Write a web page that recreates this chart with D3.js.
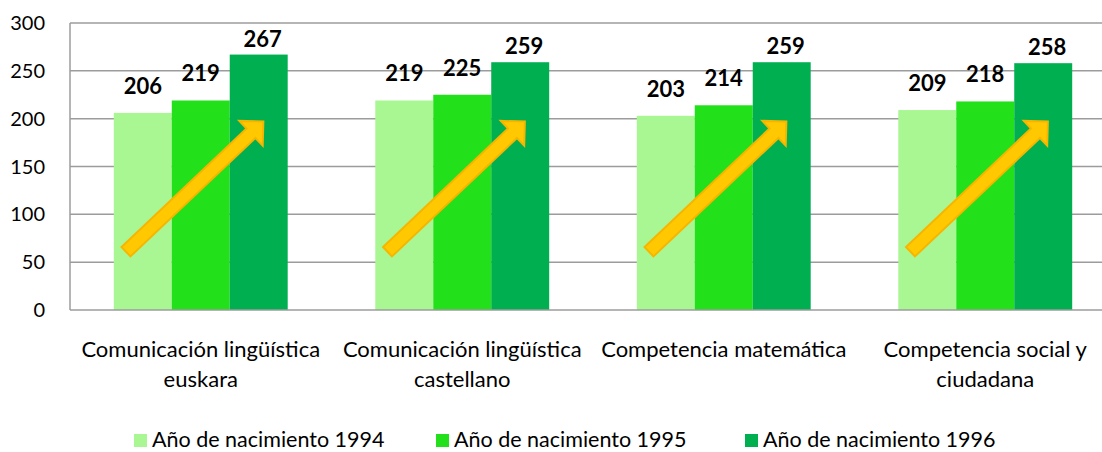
<!DOCTYPE html>
<html>
<head>
<meta charset="utf-8">
<script src="https://cdn.jsdelivr.net/npm/d3@7"></script>
<style>
  body { margin: 0; background: #fff; }
  text { font-family: Lato, "Liberation Sans", sans-serif; fill: #000; }
</style>
</head>
<body>
<svg id="chart" width="1102" height="452"></svg>
<script>
var categories = [
  ["Comunicación lingüística", "euskara"],
  ["Comunicación lingüística", "castellano"],
  ["Competencia matemática"],
  ["Competencia social y", "ciudadana"]
];
var seriesNames = ["Año de nacimiento 1994", "Año de nacimiento 1995", "Año de nacimiento 1996"];
var values1994 = [206, 219, 203, 209];
var values1995 = [219, 225, 214, 218];
var values1996 = [267, 259, 259, 258];
var yTicks = [0, 50, 100, 150, 200, 250, 300];
var colors = ["#a8f792", "#22e01a", "#00b050"];

var svg = d3.select("#chart"),
    margin = {top: 23, left: 70, bottom: 142},
    plotRight = 1116,
    height = +svg.attr("height") - margin.bottom;

var series = [values1994, values1995, values1996];

var x0 = d3.scaleBand()
    .domain(d3.range(categories.length))
    .range([margin.left, plotRight])
    .paddingInner(0.335)
    .paddingOuter(0.1675);

var x1 = d3.scaleBand()
    .domain(d3.range(series.length))
    .range([0, x0.bandwidth()]);

var y = d3.scaleLinear().domain([0, 300]).range([height, margin.top]);

// gridlines
svg.append("g")
    .selectAll("line")
    .data(yTicks.slice(1))
    .enter().append("line")
      .attr("x1", margin.left)
      .attr("x2", plotRight)
      .attr("y1", function(d) { return y(d); })
      .attr("y2", function(d) { return y(d); })
      .attr("stroke", "#9c9c9c")
      .attr("stroke-width", 1.5);

// bars
var groups = svg.append("g")
  .selectAll("g")
  .data(categories)
  .enter().append("g")
    .attr("transform", function(d, i) { return "translate(" + x0(i) + ",0)"; });

groups.selectAll("rect")
  .data(function(d, i) { return series.map(function(s, j) { return {s: j, v: s[i]}; }); })
  .enter().append("rect")
    .attr("x", function(d) { return x1(d.s); })
    .attr("y", function(d) { return y(d.v); })
    .attr("width", x1.bandwidth())
    .attr("height", function(d) { return y(0) - y(d.v); })
    .attr("fill", function(d) { return colors[d.s]; });

// arrows (decoration, from low to high)
function arrowPath(x1p, y1p, x2p, y2p) {
  var dx = x2p - x1p, dy = y2p - y1p, len = Math.sqrt(dx * dx + dy * dy);
  var ux = dx / len, uy = dy / len, nx = -uy, ny = ux;
  var w = 6.5, hw = 17, hl = 17;
  var bx = x2p - ux * hl, by = y2p - uy * hl;
  var pts = [
    [x1p + nx * w, y1p + ny * w],
    [bx + nx * w, by + ny * w],
    [bx + nx * hw, by + ny * hw],
    [x2p, y2p],
    [bx - nx * hw, by - ny * hw],
    [bx - nx * w, by - ny * w],
    [x1p - nx * w, y1p - ny * w]
  ];
  return "M" + pts.map(function(p) { return p.join(","); }).join("L") + "Z";
}

groups.append("path")
    .attr("d", function() {
      var bw = x0.bandwidth();
      return arrowPath(bw * 0.07, y(61), bw * 0.86, y(197));
    })
    .attr("fill", "#ffc800")
    .attr("stroke", "#f7b500")
    .attr("stroke-width", 2)
    .attr("stroke-linejoin", "miter");

// data labels
groups.selectAll("text.lbl")
  .data(function(d, i) { return series.map(function(s, j) { return {s: j, v: s[i]}; }); })
  .enter().append("text")
    .attr("class", "lbl")
    .attr("x", function(d) { return x1(d.s) + x1.bandwidth() / 2 + (d.s === 2 ? 4 : 0); })
    .attr("y", function(d) { return y(d.v) - (d.s === 2 ? 8 : 19); })
    .attr("text-anchor", "middle")
    .style("font-size", "22px")
    .style("font-weight", "bold")
    .text(function(d) { return d.v; });

// axis lines
svg.append("line")
    .attr("x1", margin.left).attr("x2", margin.left)
    .attr("y1", y(300)).attr("y2", y(0))
    .attr("stroke", "#9c9c9c").attr("stroke-width", 1.5);
svg.append("line")
    .attr("x1", margin.left).attr("x2", plotRight)
    .attr("y1", y(0)).attr("y2", y(0))
    .attr("stroke", "#9c9c9c").attr("stroke-width", 1.5);

// y tick labels
svg.append("g")
  .selectAll("text")
  .data(yTicks)
  .enter().append("text")
    .attr("x", 45)
    .attr("y", function(d) { return y(d); })
    .attr("dy", "0.35em")
    .attr("text-anchor", "end")
    .style("font-size", "20px")
    .text(function(d) { return d; });

// category labels
var catLabels = svg.append("g")
  .selectAll("text")
  .data(categories)
  .enter().append("text")
    .attr("text-anchor", "middle")
    .attr("transform", function(d, i) { return "translate(" + (x0(i) + x0.bandwidth() / 2) + ",357)"; })
    .style("font-size", "22px");

catLabels.selectAll("tspan")
  .data(function(d) { return d; })
  .enter().append("tspan")
    .attr("x", 0)
    .attr("y", function(d, i) { return i * 29.5; })
    .text(function(d) { return d; });

// legend
var legendX = [134, 436, 745];
var legend = svg.append("g")
  .selectAll("g")
  .data(seriesNames)
  .enter().append("g")
    .attr("transform", function(d, i) { return "translate(" + legendX[i] + ",434)"; });

legend.append("rect")
    .attr("width", 13)
    .attr("height", 13)
    .attr("fill", function(d, i) { return colors[i]; });

legend.append("text")
    .attr("x", 18)
    .attr("y", 13)
    .style("font-size", "21.5px")
    .text(function(d) { return d; });
</script>
</body>
</html>
